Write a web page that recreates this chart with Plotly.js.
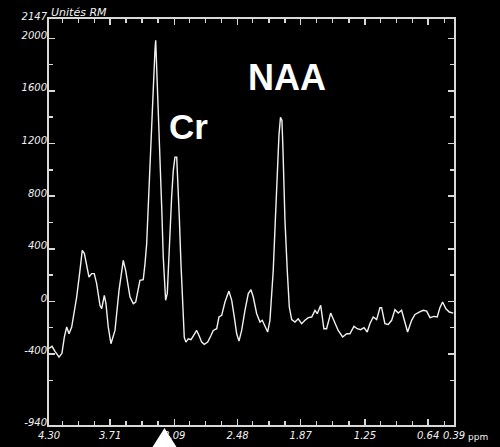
<!DOCTYPE html>
<html>
<head>
<meta charset="utf-8">
<script src="https://cdn.plot.ly/plotly-3.0.1.min.js"></script>
<style>
  html, body { margin: 0; padding: 0; background: #000; }
  #chart { width: 500px; height: 447px; }
</style>
</head>
<body>
<div id="chart"></div>
<script>
// Chemical shift (ppm) and signal (Unités RM)
const ppm = [4.300, 4.271, 4.242, 4.203, 4.175, 4.152, 4.129, 4.107, 4.081, 4.033,
  4.001, 3.979, 3.959, 3.936, 3.914, 3.888, 3.863, 3.840, 3.808, 3.791,
  3.766, 3.750, 3.728, 3.702, 3.663, 3.624, 3.583, 3.560, 3.518, 3.486,
  3.463, 3.422, 3.390, 3.373, 3.357, 3.342, 3.325, 3.309, 3.293, 3.277,
  3.270, 3.255, 3.245, 3.229, 3.212, 3.197, 3.180, 3.174, 3.158, 3.139,
  3.116, 3.100, 3.084, 3.067, 3.058, 3.042, 3.026, 3.013, 3.004, 2.994,
  2.978, 2.955, 2.929, 2.907, 2.874, 2.852, 2.826, 2.801, 2.768, 2.736,
  2.714, 2.681, 2.659, 2.633, 2.601, 2.563, 2.536, 2.511, 2.488, 2.466,
  2.440, 2.408, 2.376, 2.350, 2.328, 2.295, 2.263, 2.241, 2.215, 2.189,
  2.167, 2.150, 2.135, 2.119, 2.099, 2.080, 2.065, 2.051, 2.041, 2.032,
  2.022, 2.000, 1.980, 1.957, 1.925, 1.894, 1.861, 1.829, 1.797, 1.764,
  1.732, 1.710, 1.677, 1.646, 1.620, 1.581, 1.549, 1.508, 1.465, 1.426,
  1.395, 1.356, 1.324, 1.291, 1.259, 1.228, 1.202, 1.170, 1.137, 1.105,
  1.089, 1.057, 1.025, 0.992, 0.960, 0.928, 0.896, 0.870, 0.838, 0.799,
  0.767, 0.726, 0.687, 0.654, 0.622, 0.584, 0.552, 0.526, 0.500, 0.468,
  0.436, 0.397];
const signal = [-357, -342, -380, -424, -395, -272, -195, -246, -195, 33,
  236, 388, 365, 261, 185, 211, 211, 135, -30, -56,
  46, -17, -195, -322, -221, 84, 312, 236, 33, -17,
  -5, 160, 165, 287, 439, 717, 1047, 1402, 1681, 1909,
  1985, 1681, 1453, 1047, 717, 337, 33, 8, 61, 439,
  793, 996, 1097, 1097, 945, 641, 287, 46, -144, -274,
  -310, -284, -291, -259, -221, -259, -310, -327, -310, -259,
  -221, -208, -119, -106, -5, 78, 8, -119, -246, -302,
  -221, -68, 59, 89, 33, -94, -157, -144, -183, -233,
  -144, 59, 236, 540, 920, 1262, 1399, 1376, 1148, 844,
  616, 236, -43, -139, -157, -132, -170, -144, -124, -119,
  -68, -94, -30, -208, -208, -89, -144, -221, -271, -246,
  -246, -190, -208, -215, -200, -233, -170, -119, -139, -48,
  -48, -170, -175, -144, -63, -89, -68, -144, -233, -144,
  -99, -81, -68, -74, -124, -114, -119, -48, -5, -56,
  -81, -89];

// Tick labels
const xTickVals = [4.30, 3.71, 3.09, 2.48, 1.87, 1.25, 0.64, 0.39];
const xTickText = ['4.30', '3.71', '3.09', '2.48', '1.87', '1.25', '0.64', '0.39'];
const xMinorVals = [4.169, 4.016, 3.863, 3.557, 3.403, 3.250, 2.943, 2.790, 2.637,
  2.334, 2.176, 2.022, 1.716, 1.565, 1.404, 1.098, 0.944, 0.793, 0.484];
const yTickVals = [2147, 2000, 1600, 1200, 800, 400, 0, -400, -940];
const yTickText = ['2147', '2000', '1600', '1200', '800', '400', '0', '-400', '-940'];
const yMinorVals = [1800, 1400, 1000, 600, 200, -200, -600];

// Peak labels
const peakNames = ['Cr', 'NAA'];

const fg = '#f2f2f2';
const axisColor = '#d8d8d8';
const tickFont = { family: 'DejaVu Sans', size: 10, color: fg, style: 'italic' };

const trace = {
  x: ppm, y: signal, type: 'scatter', mode: 'lines',
  line: { color: fg, width: 1.4, shape: 'linear' },
  hoverinfo: 'skip'
};

const axisCommon = {
  showgrid: false, zeroline: false,
  showline: true, linecolor: axisColor, linewidth: 2,
  mirror: 'ticks', ticks: 'inside', ticklen: 6, tickwidth: 1.5, tickcolor: axisColor,
  tickmode: 'array', tickfont: tickFont, tickangle: 0
};

const layout = {
  width: 500, height: 447,
  paper_bgcolor: '#000', plot_bgcolor: '#000',
  margin: { l: 49, r: 46, t: 19, b: 22 },
  showlegend: false,
  xaxis: Object.assign({}, axisCommon, {
    range: [4.30, 0.39],
    tickvals: xTickVals, ticktext: xTickText,
    ticklabelstandoff: 0,
    minor: { tickmode: 'array', tickvals: xMinorVals, ticks: 'inside', ticklen: 4, tickwidth: 1.5, tickcolor: axisColor }
  }),
  yaxis: Object.assign({}, axisCommon, {
    range: [-940, 2147],
    tickvals: yTickVals, ticktext: yTickText,
    ticklabelstandoff: -2,
    ticklabelshift: -3,
    minor: { tickmode: 'array', tickvals: yMinorVals, ticks: 'inside', ticklen: 4, tickwidth: 1.5, tickcolor: axisColor }
  }),
  annotations: [
    { xref: 'paper', yref: 'paper', x: 0.3444, y: 0.735, xanchor: 'center', yanchor: 'middle',
      text: peakNames[0], showarrow: false,
      font: { family: 'Liberation Sans', size: 35, color: '#fff', weight: 'bold' } },
    { xref: 'paper', yref: 'paper', x: 0.5877, y: 0.855, xanchor: 'center', yanchor: 'middle',
      text: peakNames[1], showarrow: false,
      font: { family: 'Liberation Sans', size: 36, color: '#fff', weight: 'bold' } },
    { xref: 'paper', yref: 'paper', x: 0.0, y: 1.0, xanchor: 'left', yanchor: 'bottom', yshift: -2,
      text: 'Unités RM', showarrow: false,
      font: { family: 'DejaVu Sans', size: 11, color: fg, style: 'italic' } },
    { xref: 'paper', yref: 'paper', x: 1.03, y: -0.03, xanchor: 'left', yanchor: 'middle',
      text: 'ppm', showarrow: false,
      font: { family: 'DejaVu Sans', size: 9, color: fg } }
  ],
  shapes: [
    { type: 'path', xref: 'paper', yref: 'paper', layer: 'above',
      path: 'M 0.2852 -0.0074 L 0.3148 -0.0542 L 0.2556 -0.0542 Z',
      fillcolor: '#fff', line: { color: '#fff', width: 0 } }
  ]
};

Plotly.newPlot('chart', [trace], layout, { displayModeBar: false, staticPlot: true });
</script>
</body>
</html>
